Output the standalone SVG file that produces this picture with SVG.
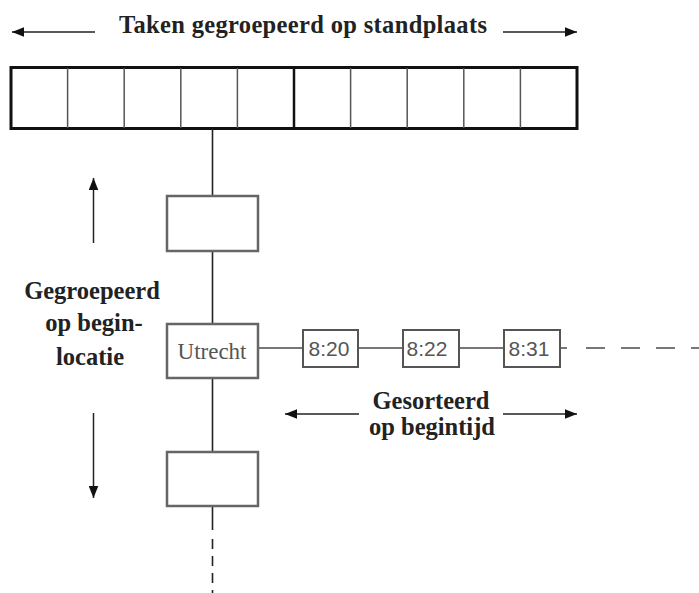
<svg xmlns="http://www.w3.org/2000/svg" width="699" height="593" viewBox="0 0 699 593">
  <defs>
    <style>
      .lbl { font-family: "Liberation Serif", "Times New Roman", serif; font-weight: bold; font-size: 24.5px; fill: #222; }
      .box { fill: #fff; stroke: #666; stroke-width: 2.5; }
      .tbox { fill: #fff; stroke: #555; stroke-width: 2; }
      .cell { stroke: #555; stroke-width: 1.5; }
      .conn { stroke: #222; stroke-width: 1.6; fill: none; }
      .hconn { stroke: #777; stroke-width: 2; fill: none; }
      .arr { stroke: #222; stroke-width: 1.5; fill: none; marker-end: url(#ah); }
      .city { font-family: "Liberation Serif", "Times New Roman", serif; font-size: 23px; fill: #555; }
      .time { font-family: "Liberation Sans", Arial, sans-serif; font-size: 21px; fill: #555; }
    </style>
    <marker id="ah" viewBox="0 0 10 8" refX="10" refY="4" markerWidth="12" markerHeight="10" markerUnits="userSpaceOnUse" orient="auto">
      <path d="M0,0 L10,4 L0,8 Z" fill="#111"/>
    </marker>
  </defs>

  <g id="title">
    <text class="lbl" x="119" y="33" textLength="368" lengthAdjust="spacing">Taken gegroepeerd op standplaats</text>
    <line class="arr" x1="95" y1="32" x2="12" y2="32"/>
    <line class="arr" x1="503" y1="32" x2="577" y2="32"/>
  </g>

  <g id="standplaats-bar">
    <rect x="11" y="67.5" width="566" height="61" fill="#fff" stroke="#111" stroke-width="3"/>
    <line class="cell" x1="67.6" y1="68" x2="67.6" y2="128"/>
    <line class="cell" x1="124.2" y1="68" x2="124.2" y2="128"/>
    <line class="cell" x1="180.8" y1="68" x2="180.8" y2="128"/>
    <line class="cell" x1="237.4" y1="68" x2="237.4" y2="128"/>
    <line x1="294" y1="68" x2="294" y2="128" stroke="#111" stroke-width="2.5"/>
    <line class="cell" x1="350.6" y1="68" x2="350.6" y2="128"/>
    <line class="cell" x1="407.2" y1="68" x2="407.2" y2="128"/>
    <line class="cell" x1="463.8" y1="68" x2="463.8" y2="128"/>
    <line class="cell" x1="520.4" y1="68" x2="520.4" y2="128"/>
  </g>

  <g id="connectors">
    <line class="conn" x1="212.5" y1="129" x2="212.5" y2="196"/>
    <line class="conn" x1="212.5" y1="251" x2="212.5" y2="324"/>
    <line class="conn" x1="212.5" y1="378" x2="212.5" y2="452"/>
    <path class="conn" d="M212.5,506 V593" stroke-dasharray="24 9 10 7 10 7 10 7 10 7"/>
    <line class="hconn" x1="258" y1="348" x2="303" y2="348"/>
    <line class="hconn" x1="358" y1="348" x2="403" y2="348"/>
    <line class="hconn" x1="459" y1="348" x2="504" y2="348"/>
    <path class="hconn" d="M560,348 H710" stroke-dasharray="7 19 19 16 19 16 19 16 19 16"/>
  </g>

  <g id="loc-top">
    <rect class="box" x="167" y="196" width="91" height="55"/>
  </g>
  <g id="loc-utrecht">
    <rect class="box" x="167" y="324" width="91" height="54"/>
    <text class="city" x="212" y="359" text-anchor="middle">Utrecht</text>
  </g>
  <g id="loc-bottom">
    <rect class="box" x="167" y="452" width="91" height="54"/>
  </g>

  <g id="t-820">
    <rect class="tbox" x="303" y="330" width="55" height="37"/>
    <text class="time" x="329" y="356" text-anchor="middle">8:20</text>
  </g>
  <g id="t-822">
    <rect class="tbox" x="403" y="330" width="56" height="37"/>
    <text class="time" x="427" y="356" text-anchor="middle">8:22</text>
  </g>
  <g id="t-831">
    <rect class="tbox" x="504" y="330" width="56" height="37"/>
    <text class="time" x="529" y="356" text-anchor="middle">8:31</text>
  </g>

  <g id="label-left">
    <text class="lbl" x="92" y="299" text-anchor="middle">Gegroepeerd</text>
    <text class="lbl" x="94" y="331" text-anchor="middle">op begin-</text>
    <text class="lbl" x="90" y="365" text-anchor="middle">locatie</text>
    <line class="arr" x1="93.5" y1="243" x2="93.5" y2="178"/>
    <line class="arr" x1="93.5" y1="413" x2="93.5" y2="498"/>
  </g>

  <g id="label-sort">
    <text class="lbl" x="431" y="409" text-anchor="middle">Gesorteerd</text>
    <text class="lbl" x="432" y="435" text-anchor="middle">op begintijd</text>
    <line class="arr" x1="359" y1="414" x2="285" y2="414"/>
    <line class="arr" x1="503" y1="414" x2="577" y2="414"/>
  </g>
</svg>
